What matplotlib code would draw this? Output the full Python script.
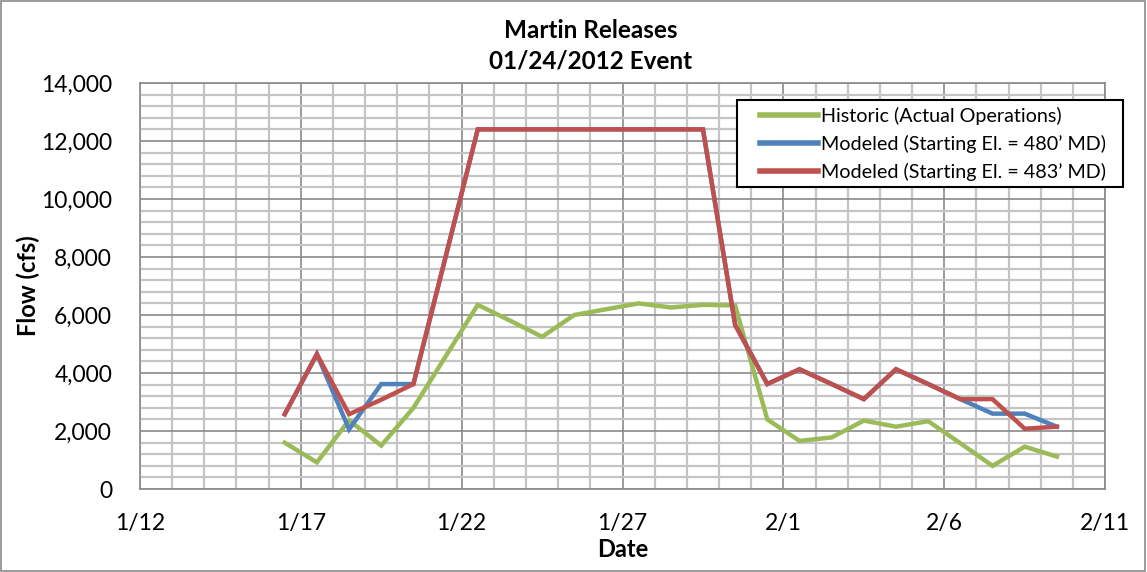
import pandas as pd
import matplotlib
matplotlib.use("Agg")
from matplotlib import pyplot as plt
import matplotlib.dates as mdates
from matplotlib.ticker import MultipleLocator, FuncFormatter
from matplotlib.patches import Rectangle

plt.rcParams['font.family'] = ['Lato', 'DejaVu Sans']

# daily release values, recorded at noon
dates = pd.date_range('2012-01-16 12:00', periods=25, freq='D')

historic = [1600, 920, 2370, 1500, 2800, 4570, 6350, 5810, 5250, 6000, 6200, 6400, 6260, 6350,
            6330, 2400, 1660, 1780, 2360, 2150, 2340, 1580, 800, 1460, 1120]
modeled_480 = [2580, 4650, 2060, 3620, 3620, 8000, 12400, 12400, 12400, 12400, 12400, 12400, 12400, 12400,
               5660, 3620, 4130, 3620, 3100, 4130, 3620, 3100, 2600, 2600, 2150]
modeled_483 = [2580, 4650, 2580, 3080, 3620, 8000, 12400, 12400, 12400, 12400, 12400, 12400, 12400, 12400,
               5660, 3620, 4130, 3620, 3100, 4130, 3620, 3100, 3100, 2080, 2150]

labels = ['Historic (Actual Operations)',
          'Modeled (Starting El. = 480\u2019 MD)',
          'Modeled (Starting El. = 483\u2019 MD)']
colors = ['#9BBB59', '#4F81BD', '#C0504D']

fig = plt.figure(figsize=(11.47, 5.72), dpi=100)
ax = fig.add_axes([0.122, 0.145, 0.8415, 0.71])

for series, label, color in zip([historic, modeled_480, modeled_483], labels, colors):
    ax.plot(dates, series, color=color, lw=3.2, label=label, solid_joinstyle='miter')

ax.set_xlim(pd.Timestamp('2012-01-12'), pd.Timestamp('2012-02-11'))
ax.set_ylim(0, 14000)
ax.xaxis.set_major_locator(mdates.DayLocator(bymonthday=[1, 6, 11, 12, 17, 22, 27]))
ax.xaxis.set_major_formatter(FuncFormatter(
    lambda v, pos: f"{mdates.num2date(v).month}/{mdates.num2date(v).day}"))
ax.xaxis.set_minor_locator(mdates.DayLocator())
ax.yaxis.set_major_locator(MultipleLocator(2000))
ax.yaxis.set_minor_locator(MultipleLocator(400))
ax.yaxis.set_major_formatter(FuncFormatter(lambda v, pos: f"{v:,.0f}"))

ax.grid(which='minor', color='#c4c4c4', lw=1.6)
ax.grid(which='major', color='#8a8a8a', lw=1.2)
ax.set_axisbelow(True)
ax.tick_params(which='both', length=0, labelsize=16.5)
ax.tick_params(axis='y', pad=20)
ax.tick_params(axis='x', pad=17)
for s in ax.spines.values():
    s.set_color('#8a8a8a')
    s.set_linewidth(1.2)

ax.set_xlabel('Date', fontsize=17, fontweight='bold', labelpad=3)
ax.set_ylabel('Flow (cfs)', fontsize=17, fontweight='bold', labelpad=1)
fig.text(0.515, 0.92, 'Martin Releases\n01/24/2012 Event', ha='center', va='center',
         fontsize=17.5, fontweight='bold', linespacing=1.38)

# legend entries without frame; the boxed panel is drawn separately so it can
# carry wider side margins than the top and bottom ones
leg = ax.legend(loc='upper left', bbox_to_anchor=(0.6425, 0.94), fontsize=14.25, frameon=False,
                handlelength=2.95, handletextpad=0.15, borderpad=0,
                labelspacing=0.5, borderaxespad=0)
leg.set_zorder(6)
for line in leg.get_lines():
    line.set_linewidth(4)
ax.add_patch(Rectangle((0.619, 0.744), 0.3997, 0.214, transform=ax.transAxes,
                       facecolor='white', edgecolor='black', lw=1.5, zorder=5, clip_on=False))

fig.patches.append(Rectangle((0.001, 0.002), 0.997, 0.996, transform=fig.transFigure,
                             fill=False, edgecolor='#8a8a8a', lw=1.2))

fig.savefig('out.png', dpi=100)
